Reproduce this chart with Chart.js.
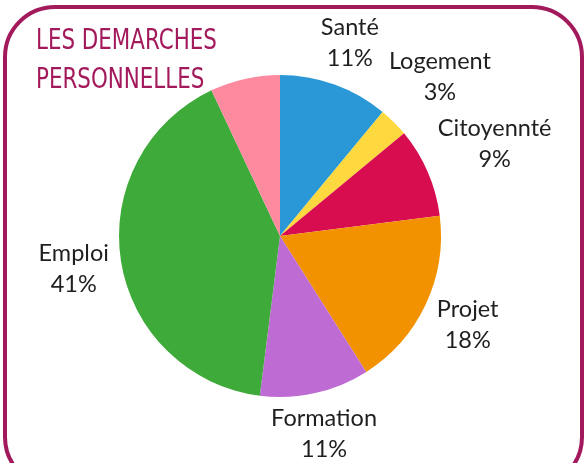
<!DOCTYPE html>
<html>
<head>
<meta charset="utf-8">
<script src="https://cdn.jsdelivr.net/npm/chart.js@4"></script>
<style>
  html, body { margin: 0; padding: 0; background: #fff; }
  #wrap { width: 586px; height: 463px; position: relative; }
</style>
</head>
<body>
<div id="wrap"><canvas id="graficoDemarches"></canvas></div>
<script>
// données
const categories = ['Santé', 'Logement', 'Citoyennté', 'Projet', 'Formation', 'Emploi', ''];
const valeurs = [11, 3, 9, 18, 11, 41, 7];
const couleurs = ['#2a98d6', '#fdd93f', '#d80d50', '#f29200', '#bf6bd4', '#3eaa3a', '#fd8a9f'];
const titreLignes = ['LES DEMARCHES', 'PERSONNELLES'];

const cadrePlugin = {
    id: 'cadre',
    beforeDraw(chart) {
        const ctx = chart.ctx;
        ctx.save();
        ctx.strokeStyle = '#a31a5c';
        ctx.lineWidth = 4;
        ctx.beginPath();
        ctx.roundRect(5, 7, 577, 480, 50);
        ctx.stroke();

        // titre en condensé
        ctx.fillStyle = '#a31a5c';
        ctx.font = '28px "DejaVu Sans Condensed", sans-serif';
        ctx.textBaseline = 'alphabetic';
        ctx.translate(36, 0);
        ctx.scale(0.85, 1);
        ctx.fillText(titreLignes[0], 0, 49);
        ctx.fillText(titreLignes[1], 0, 88);
        ctx.restore();
    }
};

const etiquettesPlugin = {
    id: 'etiquettes',
    afterDatasetsDraw(chart) {
        const ctx = chart.ctx;
        const meta = chart.getDatasetMeta(0);
        ctx.save();
        ctx.fillStyle = '#1f1f1f';
        ctx.font = '23.5px Lato, "Open Sans", sans-serif';
        ctx.textAlign = 'center';
        ctx.textBaseline = 'middle';
        meta.data.forEach((arc, i) => {
            if (!categories[i]) return;
            const mid = (arc.startAngle + arc.endAngle) / 2;
            const w = Math.max(ctx.measureText(categories[i]).width, ctx.measureText(valeurs[i] + '%').width);
            const h = Math.sin(mid) > 0 ? 40 : 54;
            const r = arc.outerRadius + 10 + Math.abs(Math.cos(mid)) * w / 2 + Math.abs(Math.sin(mid)) * h / 2;
            const x = arc.x + Math.cos(mid) * r;
            const y = arc.y + Math.sin(mid) * r;
            ctx.fillText(categories[i], x, y - 15);
            ctx.fillText(valeurs[i] + '%', x, y + 16);
        });
        ctx.restore();
    }
};

const ctx = document.getElementById('graficoDemarches').getContext('2d');
new Chart(ctx, {
    type: 'pie',
    data: {
        labels: categories,
        datasets: [{
            data: valeurs,
            backgroundColor: couleurs,
            borderWidth: 0
        }]
    },
    options: {
        responsive: true,
        maintainAspectRatio: false,
        animation: false,
        layout: { padding: { top: 75, bottom: 66, left: 119, right: 145 } },
        plugins: {
            legend: { display: false },
            tooltip: { enabled: false }
        }
    },
    plugins: [cadrePlugin, etiquettesPlugin]
});
</script>
</body>
</html>
